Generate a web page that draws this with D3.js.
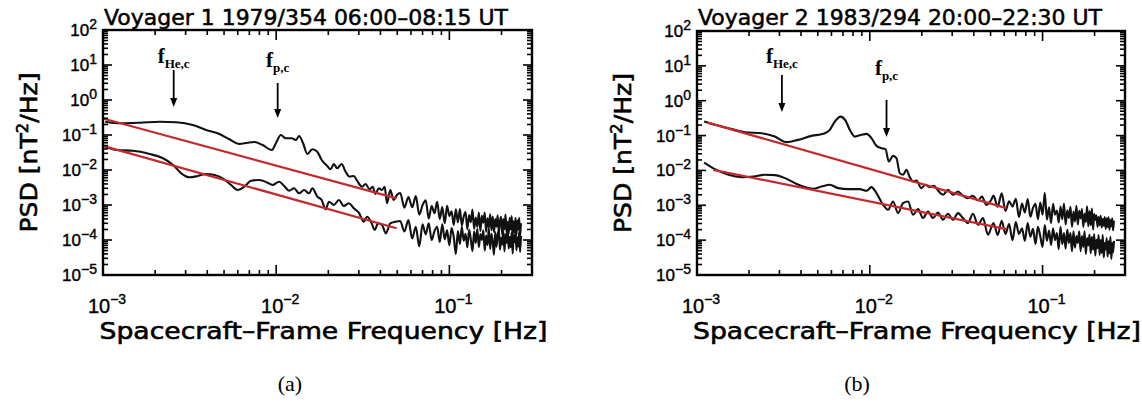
<!DOCTYPE html>
<html>
<head>
<meta charset="utf-8">
<script src="https://cdn.jsdelivr.net/npm/d3@7"></script>
<style>
  html, body { margin: 0; padding: 0; background: #fff; }
  svg { display: block; }
</style>
</head>
<body>
<svg id="chart" width="1142" height="412"></svg>
<script>
// ---------------- data ----------------
const titles = ["Voyager 1 1979/354 06:00\u201308:15 UT", "Voyager 2 1983/294 20:00\u201322:30 UT"];
const captions = ["(a)", "(b)"];
const xLabel = "Spacecraft\u2013Frame Frequency [Hz]";
const freqDomain = [1e-3, 0.3];
const psdDomain = [1e-5, 1e2];
const xTickLabels = [1e-3, 1e-2, 1e-1];
const yTickLabels = [1e-5, 1e-4, 1e-3, 1e-2, 1e-1, 1e0, 1e1, 1e2];
const cyclotronNames = ["He,c", "p,c"];
const cyclotronFreqA = [0.00256, 0.0102];
const cyclotronFreqB = [0.0031, 0.0125];

// shared high-frequency bins (Hz)
const tailFreq = [0.052,0.055,0.058,0.061,0.064,0.067,0.070,0.073,0.076,0.079,
  0.082,0.085,0.088,0.091,0.094,0.097,0.100,0.103,0.106,0.109,
  0.112,0.115,0.118,0.121,0.124,0.127,0.130,0.133,0.136,0.139,
  0.142,0.145,0.148,0.151,0.154,0.157,0.160,0.163,0.166,0.169,
  0.172,0.175,0.178,0.181,0.184,0.187,0.190,0.193,0.196,0.199,
  0.202,0.205,0.208,0.211,0.214,0.217,0.220,0.223,0.226,0.229,
  0.232,0.235,0.238,0.241,0.244,0.247,0.250,0.253,0.256,0.259];

// Voyager 1: [frequency Hz, PSD nT^2/Hz]
const transverseA = [[0.00103,0.24],[0.00125,0.216],[0.00163,0.224],[0.00213,0.24],[0.00265,0.231],
  [0.0033,0.193],[0.00394,0.139],[0.0047,0.107],[0.00537,0.0754],[0.00613,0.0553],[0.00684,0.0602],
  [0.00748,0.063],[0.00834,0.0518],[0.00944,0.0373],[0.00996,0.058],[0.01064,0.1],[0.01137,0.0805],
  [0.0123,0.0805],[0.013,0.072],[0.01356,0.0936],[0.0143,0.058],[0.01513,0.0287],[0.01617,0.039],
  [0.01727,0.0333],[0.01832,0.0193],[0.01972,0.013],[0.0206,0.0105],[0.02154,0.0148],[0.0225,0.0112],
  [0.02387,0.0148],[0.02517,0.0089],[0.02653,0.00644],[0.02806,0.00674],[0.02931,0.00494],
  [0.03133,0.00333],[0.03281,0.00398],[0.03459,0.00281],[0.03608,0.00333],[0.0374,0.00206],
  [0.0391,0.003],[0.04083,0.00268],[0.04227,0.00333],[0.04365,0.00112],[0.0456,0.00268],
  [0.04766,0.00139],[0.04977,0.00193]];
const transverseTailA = [2.2e-3,8.4e-4,1.7e-3,8.6e-4,1.8e-3,5.3e-4,9.9e-4,1.36e-3,4.1e-4,9.4e-4,
  5.8e-4,1.24e-3,4.0e-4,8.7e-4,3.0e-4,9.5e-4,4.8e-4,6.6e-4,2.7e-4,7.5e-4,
  3.2e-4,7.6e-4,2.6e-4,4.7e-4,6.3e-4,2.05e-4,5.2e-4,3.2e-4,7.4e-4,2.1e-4,
  4.4e-4,2.4e-4,6.1e-4,1.8e-4,4.9e-4,3.1e-4,6.1e-4,1.7e-4,4.2e-4,2.3e-4,
  5.4e-4,1.9e-4,4.7e-4,1.7e-4,4.0e-4,2.4e-4,5.1e-4,1.65e-4,3.4e-4,4.6e-4,
  1.4e-4,4.0e-4,2.0e-4,5.3e-4,1.65e-4,3.3e-4,1.5e-4,4.3e-4,2.0e-4,4.8e-4,
  1.3e-4,3.4e-4,1.7e-4,4.3e-4,1.4e-4,3.6e-4,2.0e-4,4.3e-4,1.25e-4,3.0e-4];
const compressiveA = [[0.00103,0.0463],[0.0012,0.0373],[0.00149,0.0356],[0.00186,0.0287],[0.00222,0.0216],
  [0.00254,0.0139],[0.00283,0.00805],[0.00316,0.00618],[0.00353,0.00674],[0.00394,0.00769],[0.0044,0.0072],
  [0.00491,0.0058],[0.00549,0.00373],[0.00599,0.00268],[0.00655,0.00333],[0.00716,0.00494],[0.00799,0.00518],
  [0.00891,0.00434],[0.00952,0.00373],[0.0104,0.00463],[0.01112,0.00349],[0.01188,0.00256],[0.01269,0.003],
  [0.01356,0.00216],[0.01449,0.00268],[0.01548,0.00216],[0.01617,0.003],[0.01728,0.00173],[0.01831,0.00139],
  [0.0193,0.00075],[0.02017,0.00124],[0.02154,0.001],[0.02301,0.00139],[0.02459,0.00094],[0.02627,0.00112],
  [0.02807,0.000805],[0.03,0.000603],[0.03205,0.000333],[0.03347,0.000463],[0.03548,0.000312],
  [0.03707,0.000193],[0.03873,0.0003],[0.04083,0.000268],[0.04303,0.000155],[0.0456,0.0003],[0.04875,0.000333]];
const compressiveTailA = [3.5e-4,1.75e-4,3.7e-4,1.1e-4,2.4e-4,6.6e-5,2.8e-4,1.45e-4,3.0e-4,1.0e-4,
  1.8e-4,2.4e-4,8.8e-5,2.8e-4,1.05e-4,1.9e-4,7.0e-5,2.2e-4,1.2e-4,4.0e-5,
  1.8e-4,7.7e-5,2.4e-4,9.5e-5,1.5e-4,6.2e-5,1.95e-4,1.03e-4,4.8e-5,1.77e-4,
  8.2e-5,2.1e-4,6.3e-5,1.47e-4,1.0e-4,1.9e-4,5.0e-5,1.33e-4,7.2e-5,2.2e-4,
  5.5e-5,1.5e-4,8.7e-5,3.8e-5,1.7e-4,6.4e-5,1.4e-4,1.9e-4,5.3e-5,1.17e-4,
  7.4e-5,1.8e-4,4.7e-5,1.47e-4,8.3e-5,2.0e-4,5.7e-5,1.24e-4,6.2e-5,1.65e-4,
  4.1e-5,1.33e-4,8.7e-5,1.8e-4,5.1e-5,1.2e-4,6.5e-5,1.7e-4,4.5e-5,1.3e-4];
const fitTransverseA = [[0.001,0.296],[0.0496,0.00155]];
const fitCompressiveA = [[0.001,0.049],[0.0496,0.000216]];

// Voyager 2: [frequency Hz, PSD nT^2/Hz]
const transverseB = [[0.0011,0.252],[0.00127,0.203],[0.00152,0.163],[0.0019,0.125],[0.00237,0.117],
  [0.00282,0.0935],[0.0033,0.0647],[0.00385,0.0753],[0.0046,0.098],[0.00537,0.112],[0.00587,0.146],
  [0.00628,0.252],[0.00677,0.35],[0.00724,0.269],[0.00766,0.146],[0.00819,0.0935],[0.00895,0.105],
  [0.00957,0.112],[0.01023,0.0843],[0.01093,0.0507],[0.01168,0.0436],[0.01233,0.0408],[0.01288,0.018],
  [0.01364,0.0262],[0.01427,0.0225],[0.01491,0.00837],[0.01558,0.00748],[0.0163,0.0104],[0.01703,0.00643],
  [0.0178,0.00481],[0.01862,0.00514],[0.01989,0.00311],[0.02099,0.00387],[0.02223,0.00332],
  [0.02353,0.00362],[0.02482,0.00266],[0.02653,0.002],[0.02836,0.00278],[0.03031,0.002],[0.0324,0.00248],
  [0.03462,0.00187],[0.037,0.00161],[0.03955,0.00187],[0.04227,0.00137],[0.04459,0.00179],
  [0.04727,0.00103],[0.05051,0.00144]];
const transverseTailB = [1.9e-3,9.1e-4,2.2e-3,6.9e-4,1.3e-3,9.2e-4,1.54e-3,4.6e-4,1.13e-3,6.2e-4,
  1.52e-3,4.7e-4,8.4e-4,1.1e-3,4.0e-4,1.2e-3,5.4e-4,2.3e-3,3.9e-4,8.8e-4,
  3.1e-4,1.1e-3,5.4e-4,7.1e-4,3.2e-4,9.2e-4,4.0e-4,1.13e-3,2.8e-4,7.2e-4,
  4.3e-4,9.1e-4,2.4e-4,6.6e-4,3.4e-4,9.7e-4,2.8e-4,7.0e-4,4.2e-4,7.8e-4,
  2.4e-4,5.7e-4,3.3e-4,9.3e-4,2.5e-4,6.8e-4,2.7e-4,8.0e-4,2.0e-4,5.6e-4,
  3.8e-4,5.2e-4,2.4e-4,4.6e-4,2.7e-4,5.0e-4,2.3e-4,4.0e-4,2.6e-4,4.6e-4,
  2.1e-4,4.2e-4,2.4e-4,4.5e-4,2.0e-4,3.8e-4,2.5e-4,4.2e-4,1.9e-4,3.6e-4];
const compressiveB = [[0.0011,0.0168],[0.00127,0.0109],[0.00152,0.00748],[0.00181,0.00643],[0.00212,0.00668],
  [0.00247,0.00748],[0.00282,0.00733],[0.00323,0.00601],[0.00369,0.00432],[0.00421,0.00332],[0.0047,0.00297],
  [0.00526,0.00346],[0.00587,0.00387],[0.00656,0.00311],[0.00749,0.00291],[0.00875,0.00291],[0.00957,0.0026],
  [0.01023,0.00332],[0.01093,0.00224],[0.01194,0.00103],[0.01276,0.000743],[0.01364,0.00129],
  [0.01457,0.000597],[0.01558,0.00116],[0.01665,0.00129],[0.0178,0.000535],[0.01903,0.000778],
  [0.02033,0.00043],[0.02173,0.000664],[0.02323,0.00043],[0.02482,0.000622],[0.02653,0.000385],
  [0.02836,0.00057],[0.03031,0.000385],[0.0324,0.000597],[0.03462,0.00043],[0.037,0.000309],
  [0.03955,0.00057],[0.04227,0.000276],[0.04519,0.00043],[0.04829,0.000143]];
const compressiveTailB = [3.1e-4,1.4e-4,3.6e-4,1.5e-4,2.9e-4,1.0e-4,3.3e-4,1.5e-4,2.2e-4,9.6e-5,
  3.1e-4,1.24e-4,2.1e-4,7.8e-5,2.4e-4,1.3e-4,6.4e-5,2.7e-4,9.6e-5,1.9e-4,
  7.3e-5,2.2e-4,1.0e-4,1.6e-4,5.5e-5,2.4e-4,7.7e-5,1.6e-4,5.7e-5,2.0e-4,
  8.3e-5,1.6e-4,4.8e-5,1.8e-4,6.1e-5,1.3e-4,8.3e-5,1.8e-4,4.8e-5,1.3e-4,
  6.4e-5,1.8e-4,4.0e-5,1.14e-4,7.0e-5,1.45e-4,4.2e-5,1.25e-4,5.3e-5,1.5e-4,
  3.6e-5,1.03e-4,5.9e-5,1.4e-4,3.8e-5,1.0e-4,4.3e-5,1.4e-4,3.2e-5,8.3e-5,
  5.4e-5,1.14e-4,3.4e-5,9.2e-5,4.2e-5,1.24e-4,2.9e-5,8.3e-5,4.4e-5,9.5e-5];
const fitTransverseB = [[0.00114,0.239],[0.0617,0.00083]];
const fitCompressiveB = [[0.00124,0.0104],[0.0617,0.000208]];

// ---------------- layout ----------------
const layouts = [
  { left: 103, right: 532, top: 30, bottom: 275, captionX: 290,
    arrows: [{ top: 70, tip: 107, label: 63 }, { top: 83, tip: 118, label: 67 }] },
  { left: 697, right: 1125, top: 31, bottom: 275, captionX: 857,
    arrows: [{ top: 75, tip: 112, label: 63 }, { top: 100, tip: 137, label: 75 }] }
];

const panels = [
  { title: titles[0], caption: captions[0], layout: layouts[0], cyclotron: cyclotronFreqA,
    spectra: [transverseA.concat(tailFreq.map((f, i) => [f, transverseTailA[i]])),
              compressiveA.concat(tailFreq.map((f, i) => [f, compressiveTailA[i]]))],
    fits: [fitTransverseA, fitCompressiveA] },
  { title: titles[1], caption: captions[1], layout: layouts[1], cyclotron: cyclotronFreqB,
    spectra: [transverseB.concat(tailFreq.map((f, i) => [f, transverseTailB[i]])),
              compressiveB.concat(tailFreq.map((f, i) => [f, compressiveTailB[i]]))],
    fits: [fitTransverseB, fitCompressiveB] }
];

const SANS = "'DejaVu Sans', sans-serif";
const NUM = "'Liberation Sans', Arial, sans-serif";
const SERIF = "'Liberation Serif', 'DejaVu Serif', serif";
const RED = "#c42a2c";

const svg = d3.select("#chart");

// 1..9 x 10^d tick positions inside a log domain
function logTicks(domain) {
  const out = [];
  const d0 = Math.floor(Math.log10(domain[0])), d1 = Math.ceil(Math.log10(domain[1]));
  for (let d = d0; d <= d1; d++) {
    for (let m = 1; m <= 9; m++) {
      const v = m * Math.pow(10, d);
      if (v >= domain[0] * 0.999 && v <= domain[1] * 1.001) out.push({ v, major: m === 1 });
    }
  }
  return out;
}

function powerLabel(text, v, supSize, supDy) {
  const e = Math.round(Math.log10(v));
  text.append("tspan").text("10");
  text.append("tspan").attr("dy", -supDy).attr("font-size", supSize)
    .text(e < 0 ? "\u2212" + (-e) : String(e));
}

// slightly heavier strokes for the axis lettering
function ink(sel, w) {
  return sel.attr("fill", "#000").attr("stroke", "#000").attr("stroke-width", w);
}

panels.forEach(p => {
  const L = p.layout;
  const x = d3.scaleLog().domain(freqDomain).range([L.left, L.right]);
  const y = d3.scaleLog().domain(psdDomain).range([L.bottom, L.top]);
  const g = svg.append("g");

  // spectra
  const line = d3.line().x(d => x(d[0])).y(d => y(d[1])).curve(d3.curveMonotoneX);
  g.append("g").selectAll("path").data(p.spectra).join("path")
    .attr("d", line).attr("fill", "none").attr("stroke", "#111")
    .attr("stroke-width", 2.1).attr("stroke-linejoin", "round");

  // power-law fits
  const straight = d3.line().x(d => x(d[0])).y(d => y(d[1]));
  g.append("g").selectAll("path").data(p.fits).join("path")
    .attr("d", straight).attr("fill", "none").attr("stroke", RED).attr("stroke-width", 2.2);

  // frame and ticks
  const ax = g.append("g").attr("stroke", "#000");
  ax.append("rect").attr("x", L.left).attr("y", L.top)
    .attr("width", L.right - L.left).attr("height", L.bottom - L.top)
    .attr("fill", "none").attr("stroke-width", 2.4);
  logTicks(freqDomain).forEach(t => {
    const xx = x(t.v), len = t.major ? 10 : 5;
    ax.append("line").attr("x1", xx).attr("x2", xx).attr("y1", L.bottom).attr("y2", L.bottom - len).attr("stroke-width", 1.6);
    ax.append("line").attr("x1", xx).attr("x2", xx).attr("y1", L.top).attr("y2", L.top + len).attr("stroke-width", 1.6);
  });
  logTicks(psdDomain).forEach(t => {
    const yy = y(t.v), len = t.major ? 9 : 5;
    ax.append("line").attr("y1", yy).attr("y2", yy).attr("x1", L.left).attr("x2", L.left + len).attr("stroke-width", 1.6);
    ax.append("line").attr("y1", yy).attr("y2", yy).attr("x1", L.right).attr("x2", L.right - len).attr("stroke-width", 1.6);
  });

  // tick labels
  yTickLabels.forEach(v => {
    const t = ink(g.append("text"), 0.4).attr("x", L.left - 6).attr("y", y(v) + 6)
      .attr("text-anchor", "end").attr("font-family", NUM).attr("font-size", 17);
    powerLabel(t, v, 14, 7);
  });
  xTickLabels.forEach(v => {
    const t = ink(g.append("text"), 0.4).attr("x", x(v) + 4).attr("y", 313)
      .attr("text-anchor", "middle").attr("font-family", NUM).attr("font-size", 20);
    powerLabel(t, v, 14, 9);
  });

  // title
  ink(g.append("text"), 0.5).attr("x", L.left + 1).attr("y", 25)
    .attr("font-family", SANS).attr("font-size", 21)
    .attr("textLength", 404).attr("lengthAdjust", "spacingAndGlyphs").text(p.title);

  // axis titles
  const cx = (L.left + L.right) / 2 + 6;
  ink(g.append("text"), 0.6).attr("x", cx).attr("y", 339).attr("text-anchor", "middle")
    .attr("font-family", SANS).attr("font-size", 23)
    .attr("textLength", 448).attr("lengthAdjust", "spacingAndGlyphs").text(xLabel);
  const yl = ink(g.append("text"), 0.6)
    .attr("transform", `translate(${L.left - 66},${(L.top + L.bottom) / 2}) rotate(-90)`)
    .attr("text-anchor", "middle").attr("font-family", SANS).attr("font-size", 23)
    .attr("textLength", 160).attr("lengthAdjust", "spacingAndGlyphs");
  yl.append("tspan").text("PSD [nT");
  yl.append("tspan").attr("dy", -9).attr("font-size", 15).text("2");
  yl.append("tspan").attr("dy", 9).text("/Hz]");

  // cyclotron frequency markers
  p.cyclotron.forEach((f, i) => {
    const a = L.arrows[i], xx = x(f);
    g.append("line").attr("x1", xx).attr("x2", xx).attr("y1", a.top).attr("y2", a.tip - 6)
      .attr("stroke", "#000").attr("stroke-width", 1.8);
    g.append("path").attr("d", `M${xx - 3.5},${a.tip - 9} L${xx + 3.5},${a.tip - 9} L${xx},${a.tip} Z`)
      .attr("fill", "#000");
    const t = g.append("text").attr("x", xx).attr("y", a.label).attr("text-anchor", "middle")
      .attr("font-family", SERIF).attr("font-weight", "bold").attr("font-size", 21).attr("fill", "#000");
    t.append("tspan").text("f");
    t.append("tspan").attr("dy", 5).attr("font-size", 13).text(cyclotronNames[i]);
  });

  // panel caption
  g.append("text").attr("x", L.captionX).attr("y", 391).attr("text-anchor", "middle")
    .attr("font-family", SERIF).attr("font-size", 22).attr("fill", "#000").text(p.caption);
});
</script>
</body>
</html>
